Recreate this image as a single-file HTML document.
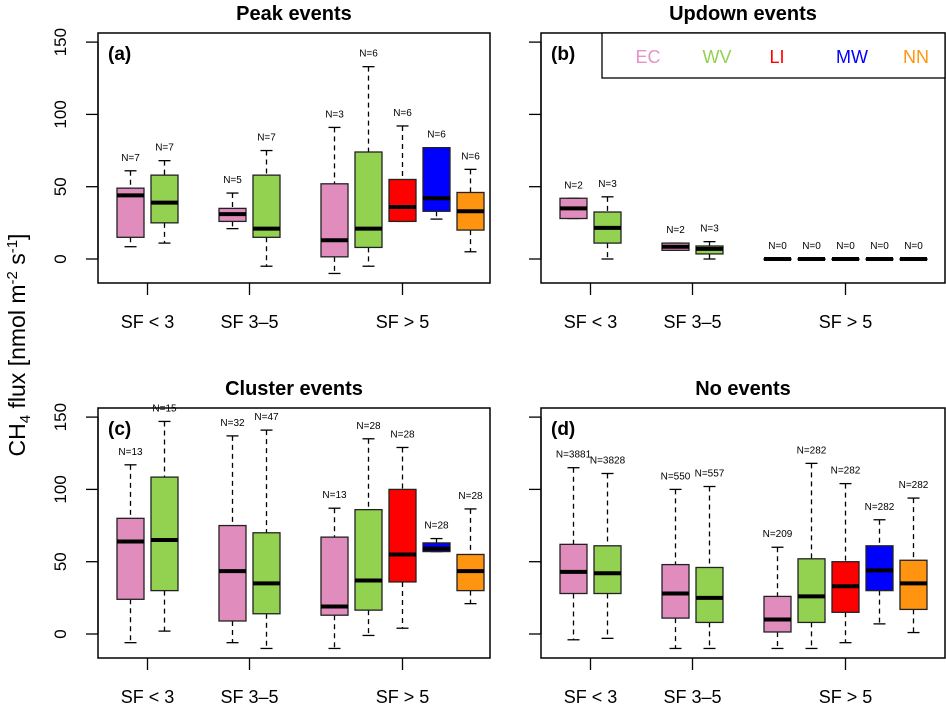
<!DOCTYPE html>
<html><head><meta charset="utf-8"><style>
body{margin:0;background:#fff}
svg text{font-family:"Liberation Sans",Arial,sans-serif}
</style></head><body>
<svg id="chart" width="946" height="705" viewBox="0 0 946 705" xmlns="http://www.w3.org/2000/svg">
<text transform="translate(25,345) rotate(-90)" text-anchor="middle" font-size="23">CH<tspan font-size="15" dy="5">4</tspan><tspan dy="-5"> flux [nmol m</tspan><tspan font-size="15" dy="-8">-2</tspan><tspan dy="8"> s</tspan><tspan font-size="15" dy="-8">-1</tspan><tspan dy="8">]</tspan></text>
</svg>
<script>
const categories = ["EC","WV","EC","WV","EC","WV","LI","MW","NN"];
const groupLabels = ["SF < 3","SF 3\u20135","SF > 5"];
const yTicks = [0,50,100,150];
// each row: [whiskerLow, q1, median, q3, whiskerHigh]
const peakStats = [[8.5,15,44,49,61],[11,25,39,58,68],[21,26,31,35,45.6],[-5,15,21,58,75],[-10,1.5,13,52,91],[-5,8,21,74,133],[26,26,36,55,92],[27.6,33,42,77,77],[5,20,33,46,62]];
const peakN = ["N=7","N=7","N=5","N=7","N=3","N=6","N=6","N=6","N=6"];
const updownStats = [[28,28,35,42,42],[0,11,21.5,32.5,43],[6,6,8.5,11,11],[0,3.5,7,9,12],[0,0,0,0,0],[0,0,0,0,0],[0,0,0,0,0],[0,0,0,0,0],[0,0,0,0,0]];
const updownN = ["N=2","N=3","N=2","N=3","N=0","N=0","N=0","N=0","N=0"];
const clusterStats = [[-6,24,64,80,117],[2,30,65,108.5,147],[-6,9,43.5,75,137],[-10,14,35,70,141],[-10,13,19,67,87],[-1,16.5,37,86,135],[4,36,55,100,129],[57,57,59,63,66],[21,30,43.5,55,86.5]];
const clusterN = ["N=13","N=15","N=32","N=47","N=13","N=28","N=28","N=28","N=28"];
const noStats = [[-4,28,43,62,115],[-3,28,42,61,111],[-10,11,28,48,100],[-10,8,25,46,102],[-10,1.4,10,26,60],[-10,8,26,52,118],[-6,15,33,50,104],[7,30,44,61,79],[1,17,35,51,94]];
const noN = ["N=3881","N=3828","N=550","N=557","N=209","N=282","N=282","N=282","N=282"];
const positions = [1,2,4,5,7,8,9,10,11];
const groupPos = [1.5,4.5,9];
const colors = {EC:"#E08DBD",WV:"#92D250",LI:"#FF0000",MW:"#0000FF",NN:"#FF9410"};
const legendColors = {EC:"#E891C8",WV:"#92D250",LI:"#FF0000",MW:"#0000FF",NN:"#FF9410"};

const NS="http://www.w3.org/2000/svg";
const svg=document.getElementById('chart');
function mk(tag,attrs,parent){const e=document.createElementNS(NS,tag);for(const k in attrs)e.setAttribute(k,attrs[k]);(parent||svg).appendChild(e);return e;}

const panels=[
 {id:"a",title:"Peak events",stats:peakStats,n:peakN,left:98,right:490,top:33,bottom:283,zero:259,labels:true,legend:false},
 {id:"b",title:"Updown events",stats:updownStats,n:updownN,left:541,right:945,top:33,bottom:283,zero:259,labels:false,legend:true},
 {id:"c",title:"Cluster events",stats:clusterStats,n:clusterN,left:98,right:490,top:408,bottom:658,zero:634,labels:true,legend:false},
 {id:"d",title:"No events",stats:noStats,n:noN,left:541,right:945,top:408,bottom:658,zero:634,labels:false,legend:false}
];
const pxPerUnit=1.446;

panels.forEach(p=>{
 const g=mk('g',{});
 
 
 const y=v=>p.zero-v*pxPerUnit;
 const x=pos=>p.left-1.5+34*pos;
 const t=mk('text',{x:(p.left+p.right)/2,y:p.top-13,'text-anchor':'middle','font-size':20,'font-weight':'bold'},g);
 
 
 t.textContent=p.title;
 yTicks.forEach(v=>{
  const tk=mk('line',{x1:p.left-12,x2:p.left,y1:y(v),y2:y(v),stroke:'#000','stroke-width':1.3},g);
  
  
  if(p.labels){
   const tl=mk('text',{transform:`translate(66,${y(v)}) rotate(-90)`,'text-anchor':'middle','font-size':17},g);
   
   
   tl.textContent=v;
  }
 });
 mk('line',{x1:p.left,x2:p.left,y1:y(0),y2:y(150),stroke:'#000','stroke-width':1.3},g);
 groupPos.forEach((gp,i)=>{
  const tk=mk('line',{x1:x(gp),x2:x(gp),y1:p.bottom,y2:p.bottom+12,stroke:'#000','stroke-width':1.3},g);
  
  
  const tl=mk('text',{x:x(gp),y:p.bottom+45,'text-anchor':'middle','font-size':18},g);
  
  
  tl.textContent=groupLabels[i];
 });
 p.stats.forEach((s,i)=>{
  const cx=x(positions[i]);const w=27;
  const bg=mk('g',{},g);
  
  
  mk('line',{x1:cx,x2:cx,y1:y(s[4]),y2:y(s[3]),stroke:'#000','stroke-width':1.3,'stroke-dasharray':'5,4'},bg);
  mk('line',{x1:cx,x2:cx,y1:y(s[1]),y2:y(s[0]),stroke:'#000','stroke-width':1.3,'stroke-dasharray':'5,4'},bg);
  mk('line',{x1:cx-6,x2:cx+6,y1:y(s[4]),y2:y(s[4]),stroke:'#000','stroke-width':1.3},bg);
  mk('line',{x1:cx-6,x2:cx+6,y1:y(s[0]),y2:y(s[0]),stroke:'#000','stroke-width':1.3},bg);
  mk('rect',{x:cx-w/2,y:y(s[3]),width:w,height:Math.max(0.5,y(s[1])-y(s[3])),fill:colors[categories[i]],stroke:'#222','stroke-width':1.3},bg);
  mk('line',{x1:cx-w/2,x2:cx+w/2,y1:y(s[2]),y2:y(s[2]),stroke:'#000','stroke-width':4},bg);
  const nl=mk('text',{x:cx,y:y(s[4])-10,'text-anchor':'middle','font-size':10},bg);
  
  
  nl.textContent=p.n[i];
 });
 const fr=mk('rect',{x:p.left,y:p.top,width:p.right-p.left,height:p.bottom-p.top,fill:'none',stroke:'#000','stroke-width':1.5},g);
 
 
 const pl=mk('text',{x:p.left+10,y:p.top+27,'font-size':19,'font-weight':'bold'},g);
 
 
 pl.textContent='('+p.id+')';
 if(p.legend){
  const lg=mk('g',{},g);
  
  
  mk('rect',{x:602,y:p.top,width:p.right-602,height:45,fill:'#fff',stroke:'#000','stroke-width':1.3},lg);
  const lx=[648,717,777,852,916];
  ["EC","WV","LI","MW","NN"].forEach((k,i)=>{
   const le=mk('text',{x:lx[i],y:63,'text-anchor':'middle','font-size':18,fill:legendColors[k]},lg);
   
   
   le.textContent=k;
  });
 }
});
</script>
</body></html>
